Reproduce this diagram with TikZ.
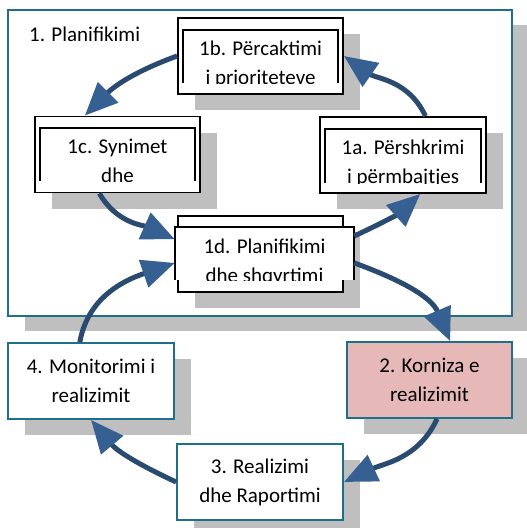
\documentclass[tikz,border=0pt]{standalone}
\usepackage{fontspec}
\setmainfont{Carlito}
\usetikzlibrary{arrows.meta, shadows}

\definecolor{frameteal}{RGB}{31,111,139}
\definecolor{boxpink}{RGB}{230,184,183}
\definecolor{shadowgray}{RGB}{191,191,191}
\definecolor{cycleline}{HTML}{2A4A70}
\definecolor{cycletip}{HTML}{376092}

\begin{document}
\begin{tikzpicture}[x=1pt, y=1pt,
  shad/.style={drop shadow={shadow xshift=16.5pt, shadow yshift=-16.5pt, fill=shadowgray, opacity=1}},
  stage/.style={draw=black, line width=1.8pt, fill=white, minimum width=165pt, minimum height=76pt, inner sep=0pt, shad},
  inbox/.style={fill=white, minimum width=155pt, minimum height=53pt, inner sep=0pt},
  openbox/.style={line width=1.8pt},
  phase/.style={draw=frameteal, line width=1.8pt, fill=white, minimum width=166pt, minimum height=76pt,
                align=center, font=\fontsize{21}{29}\selectfont, shad},
  lbl/.style={align=center, font=\fontsize{21}{29}\selectfont, inner sep=0pt},
  cyc/.style={line width=5pt, draw=cycleline, -{Triangle[length=33pt, width=28pt, color=cycletip]}}]
  \useasboundingbox (0,0) rectangle (527,528);

  % planning frame
  \node[draw=frameteal, line width=1.8pt, fill=white, minimum width=504pt, minimum height=306pt, inner sep=0pt,
        drop shadow={shadow xshift=17pt, shadow yshift=-15pt, fill=shadowgray, opacity=1}] (plan) at (260,365) {};
  \node[lbl, anchor=base west] (plantitle) at (29,486) {1. Planifikimi};

  % 1b
  \node[stage] (b1b) at (260.5,472) {};
  \node[inbox] (in1b) at (260.5,471.5) {};
  \draw[openbox] (in1b.south west) |- (in1b.north) -| (in1b.south east);
  \begin{scope}
    \clip (in1b.south west) rectangle (in1b.north east);
    \node[lbl, anchor=north] (t1b) at ([yshift=-11pt]in1b.north) {1b. Përcaktimi\\i prioriteteve};
  \end{scope}

  % 1c
  \node[stage] (b1c) at (117.5,373.5) {};
  \node[inbox] (in1c) at (117.5,373.5) {};
  \draw[openbox] (in1c.south west) |- (in1c.north) -| (in1c.south east);
  \begin{scope}
    \clip (in1c.south west) rectangle (in1c.north east);
    \node[lbl, anchor=north] (t1c) at ([yshift=-11pt]in1c.north) {1c. Synimet\\dhe};
  \end{scope}

  % 1a
  \node[stage, minimum width=166pt] (b1a) at (403,373) {};
  \node[inbox, minimum width=156pt, minimum height=54pt] (in1a) at (403,372) {};
  \draw[openbox] (in1a.south west) |- (in1a.north) -| (in1a.south east);
  \begin{scope}
    \clip (in1a.south west) rectangle (in1a.north east);
    \node[lbl, anchor=north] (t1a) at ([yshift=-11pt]in1a.north) {1a. Përshkrimi\\i përmbajtjes};
  \end{scope}

  % 1d
  \node[stage] (b1d) at (260.5,274) {};
  \node[inbox, minimum width=179pt] (in1d) at (264.5,274.5) {};
  \draw[openbox] (in1d.south west) |- (in1d.north) -| (in1d.south east);
  \begin{scope}
    \clip (in1d.south west) rectangle (in1d.north east);
    \node[lbl, anchor=north] (t1d) at ([yshift=-12pt]in1d.north) {1d. Planifikimi\\dhe shqyrtimi};
  \end{scope}

  % realization cycle
  \node[phase] (b4) at (91,147) {4. Monitorimi i\\realizimit};
  \node[phase, fill=boxpink, minimum width=165pt] (b2) at (429.5,148) {2. Korniza e\\realizimit};
  \node[phase] (b3) at (260,46) {3. Realizimi\\dhe Raportimi};

  \draw[cyc] (b1a.60) to[out=115, in=-35] (b1b.east);
  \draw[cyc] (b1b.west) to[out=200, in=45] (b1c.130);
  \draw[cyc] (b1c.-115) to[out=-60, in=156] (in1d.171);
  \draw[cyc] (in1d.11) to[out=25, in=-138] (b1a.-66);
  \draw[cyc] (in1d.-6) to[out=-20, in=113] (b2.62);
  \draw[cyc] (b2.-79) to[out=-115, in=25] (b3.east);
  \draw[cyc] (b3.west) to[out=155, in=-50] (b4.south);
  \draw[cyc] (b4.106) to[out=80, in=-161] (in1d.186);
\end{tikzpicture}
\end{document}
